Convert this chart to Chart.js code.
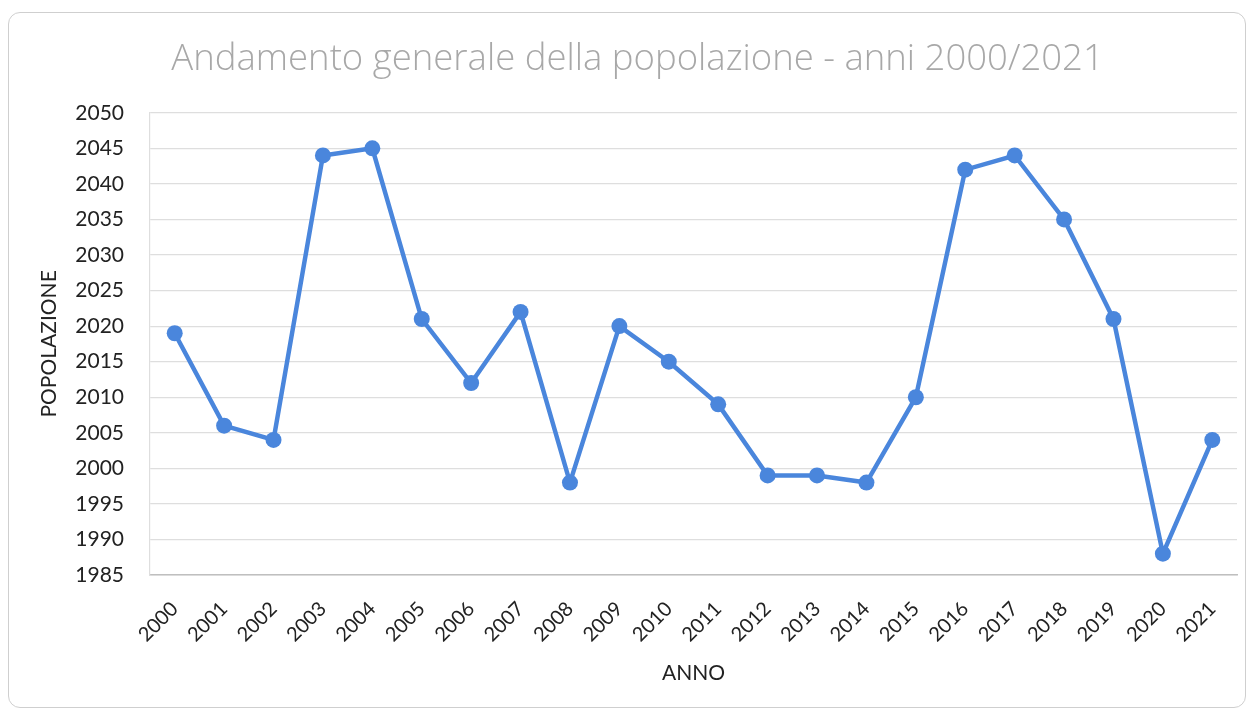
<!DOCTYPE html>
<html>
<head>
<meta charset="utf-8">
<script src="https://cdn.jsdelivr.net/npm/chart.js@4/dist/chart.umd.min.js"></script>
<style>
  html, body { margin: 0; padding: 0; background: #ffffff; }
  #wrap { position: relative; width: 1252px; height: 714px; }
  #frame { position: absolute; left: 8px; top: 12px; width: 1238px; height: 696px;
           border: 1.5px solid #cfcfcf; border-radius: 12px; box-sizing: border-box; }
  canvas { position: absolute; left: 0; top: 0; }
</style>
</head>
<body>
<div id="wrap">
  <div id="frame"></div>
  <canvas id="c" width="1252" height="714"></canvas>
</div>
<script>
const chartTitle = 'Andamento generale della popolazione - anni 2000/2021';
const xAxisTitle = 'ANNO';
const yAxisTitle = 'POPOLAZIONE';
const years = ['2000','2001','2002','2003','2004','2005','2006','2007','2008','2009','2010',
               '2011','2012','2013','2014','2015','2016','2017','2018','2019','2020','2021'];
const population = [2019, 2006, 2004, 2044, 2045, 2021, 2012, 2022, 1998, 2020, 2015,
                    2009, 1999, 1999, 1998, 2010, 2042, 2044, 2035, 2021, 1988, 2004];
const yMin = 1985, yMax = 2050, yStep = 5;

const FONT = 'Lato, "Open Sans", "Liberation Sans", sans-serif';
const TITLE_FONT = '"Open Sans", Lato, sans-serif';
const lineColor = '#4a86dc';

new Chart(document.getElementById('c'), {
  type: 'line',
  data: {
    labels: years,
    datasets: [{
      label: yAxisTitle,
      data: population,
      borderColor: lineColor,
      backgroundColor: lineColor,
      borderWidth: 4.5,
      pointRadius: 8,
      pointHoverRadius: 8,
      pointBackgroundColor: lineColor,
      pointBorderColor: lineColor,
      pointBorderWidth: 0,
      tension: 0,
      fill: false
    }]
  },
  options: {
    responsive: false,
    animation: false,
    devicePixelRatio: 1,
    layout: { padding: { left: 38, right: 15, top: 0, bottom: 0 } },
    plugins: {
      legend: { display: false },
      tooltip: { enabled: false },
      title: {
        display: true,
        text: chartTitle,
        color: '#a8a8a8',
        font: { family: TITLE_FONT, size: 36.5, weight: '300', lineHeight: 1.2 },
        padding: { top: 38, bottom: 31 }
      }
    },
    scales: {
      x: {
        offset: true,
        grid: { display: false, drawTicks: false },
        border: { display: true, color: '#bfbfbf', width: 1.5 },
        ticks: {
          color: '#222222',
          font: { family: FONT, size: 20 },
          minRotation: 45,
          maxRotation: 45,
          padding: 22,
          autoSkip: false
        },
        title: {
          display: true,
          text: xAxisTitle,
          color: '#222222',
          font: { family: FONT, size: 21, lineHeight: 1.2 },
          padding: { top: 0, bottom: 28 }
        },
        afterFit(scale) { scale.height = 139; }
      },
      y: {
        min: yMin,
        max: yMax,
        grid: { color: '#dedede', lineWidth: 1.2, drawTicks: false },
        border: { display: true, color: '#dedede', width: 1.2 },
        ticks: {
          stepSize: yStep,
          color: '#222222',
          font: { family: FONT, size: 21 },
          padding: 26,
          callback: (v) => String(v)
        },
        title: {
          display: true,
          text: yAxisTitle,
          color: '#222222',
          font: { family: FONT, size: 21, lineHeight: 1.1 },
          padding: { top: 0, bottom: 0 }
        },
        afterFit(scale) { scale.width = 112; }
      }
    }
  }
});
</script>
</body>
</html>
